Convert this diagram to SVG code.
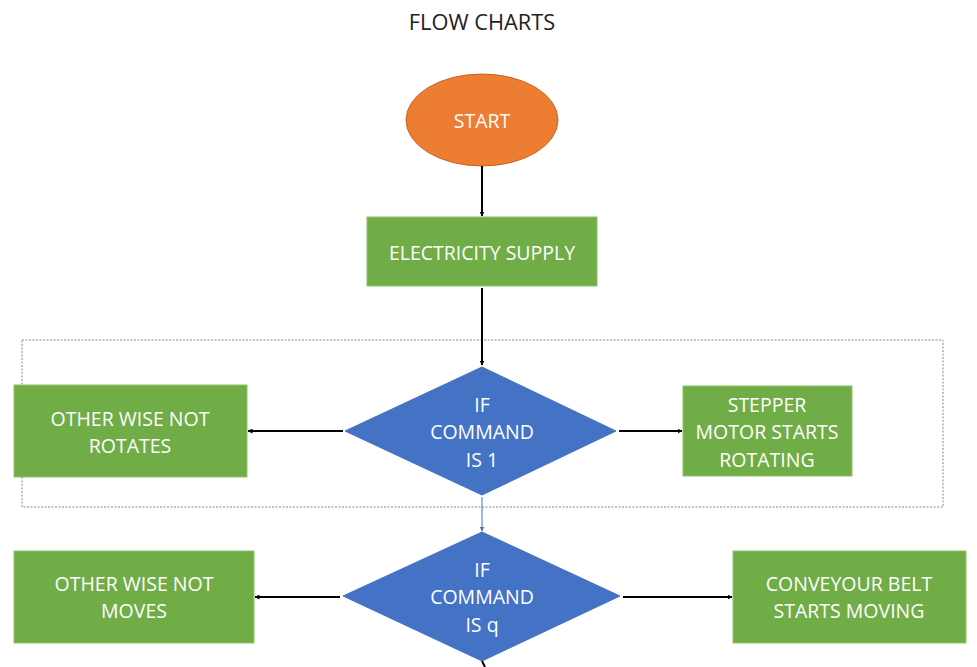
<svg xmlns="http://www.w3.org/2000/svg" width="977" height="667" viewBox="0 0 977 667">
<defs>
<marker id="ah" viewBox="0 0 10 10" refX="9" refY="5" markerWidth="5" markerHeight="5" orient="auto" markerUnits="userSpaceOnUse">
<path d="M0,0 L10,5 L0,10 z" fill="#000"/>
</marker>
<marker id="ahb" viewBox="0 0 10 10" refX="9" refY="5" markerWidth="5" markerHeight="5" orient="auto" markerUnits="userSpaceOnUse">
<path d="M0,0 L10,5 L0,10 z" fill="#4472C4"/>
</marker>
<style>
.t{font-family:"Open Sans","Liberation Sans",sans-serif;font-size:19.5px;fill:#fff;text-anchor:middle}
.box{fill:#70AD47;stroke:#8fc46a;stroke-width:1}
.dia{fill:#4472C4;stroke:#4472C4;stroke-width:1}
.c{stroke:#000;stroke-width:2;fill:none;marker-end:url(#ah)}
</style>
</defs>
<rect width="977" height="667" fill="#fff"/>
<text x="482" y="30" style="font-family:'Open Sans','Liberation Sans',sans-serif;font-size:21.8px;fill:#222;text-anchor:middle">FLOW CHARTS</text>
<rect x="22" y="340" width="921" height="167" fill="none" stroke="#888" stroke-width="1" stroke-dasharray="2,1.5"/>
<g id="start">
<ellipse cx="482" cy="120" rx="76" ry="46" fill="#ED7D31" stroke="#c9661f" stroke-width="1"/>
<text class="t" x="482" y="128">START</text>
</g>
<g id="electricity">
<rect class="box" x="367" y="217" width="230" height="69"/>
<text class="t" x="482" y="260">ELECTRICITY SUPPLY</text>
</g>
<g id="decision1">
<polygon class="dia" points="482,367 616,431 482,495 345,431"/>
<text class="t" x="482" y="412">IF</text>
<text class="t" x="482" y="439">COMMAND</text>
<text class="t" x="482" y="467">IS 1</text>
</g>
<g id="notrotates">
<rect class="box" x="14" y="385" width="233" height="92"/>
<text class="t" x="130" y="426">OTHER WISE NOT</text>
<text class="t" x="130" y="453">ROTATES</text>
</g>
<g id="stepper">
<rect class="box" x="683" y="386" width="169" height="90"/>
<text class="t" x="767" y="412">STEPPER</text>
<text class="t" x="767" y="439">MOTOR STARTS</text>
<text class="t" x="767" y="467">ROTATING</text>
</g>
<g id="decision2">
<polygon class="dia" points="482,532 620,596 482,661 343,596"/>
<text class="t" x="482" y="577">IF</text>
<text class="t" x="482" y="604">COMMAND</text>
<text class="t" x="482" y="632">IS q</text>
</g>
<g id="notmoves">
<rect class="box" x="14" y="551" width="240" height="92"/>
<text class="t" x="134" y="591">OTHER WISE NOT</text>
<text class="t" x="134" y="618">MOVES</text>
</g>
<g id="conveyor">
<rect class="box" x="733" y="551" width="233" height="92"/>
<text class="t" x="849" y="591">CONVEYOUR BELT</text>
<text class="t" x="849" y="618">STARTS MOVING</text>
</g>
<g id="connectors">
<line class="c" x1="482" y1="166" x2="482" y2="216"/>
<line class="c" x1="482" y1="288" x2="482" y2="365"/>
<line class="c" x1="343" y1="431" x2="248" y2="431"/>
<line class="c" x1="619" y1="431" x2="682" y2="431"/>
<line x1="482" y1="497" x2="482" y2="531" stroke="#4472C4" stroke-width="1" marker-end="url(#ahb)"/>
<line class="c" x1="340" y1="597" x2="255" y2="597"/>
<line class="c" x1="623" y1="597" x2="732" y2="597"/>
<line x1="482" y1="661" x2="485" y2="667" stroke="#000" stroke-width="2"/>
</g>
</svg>
